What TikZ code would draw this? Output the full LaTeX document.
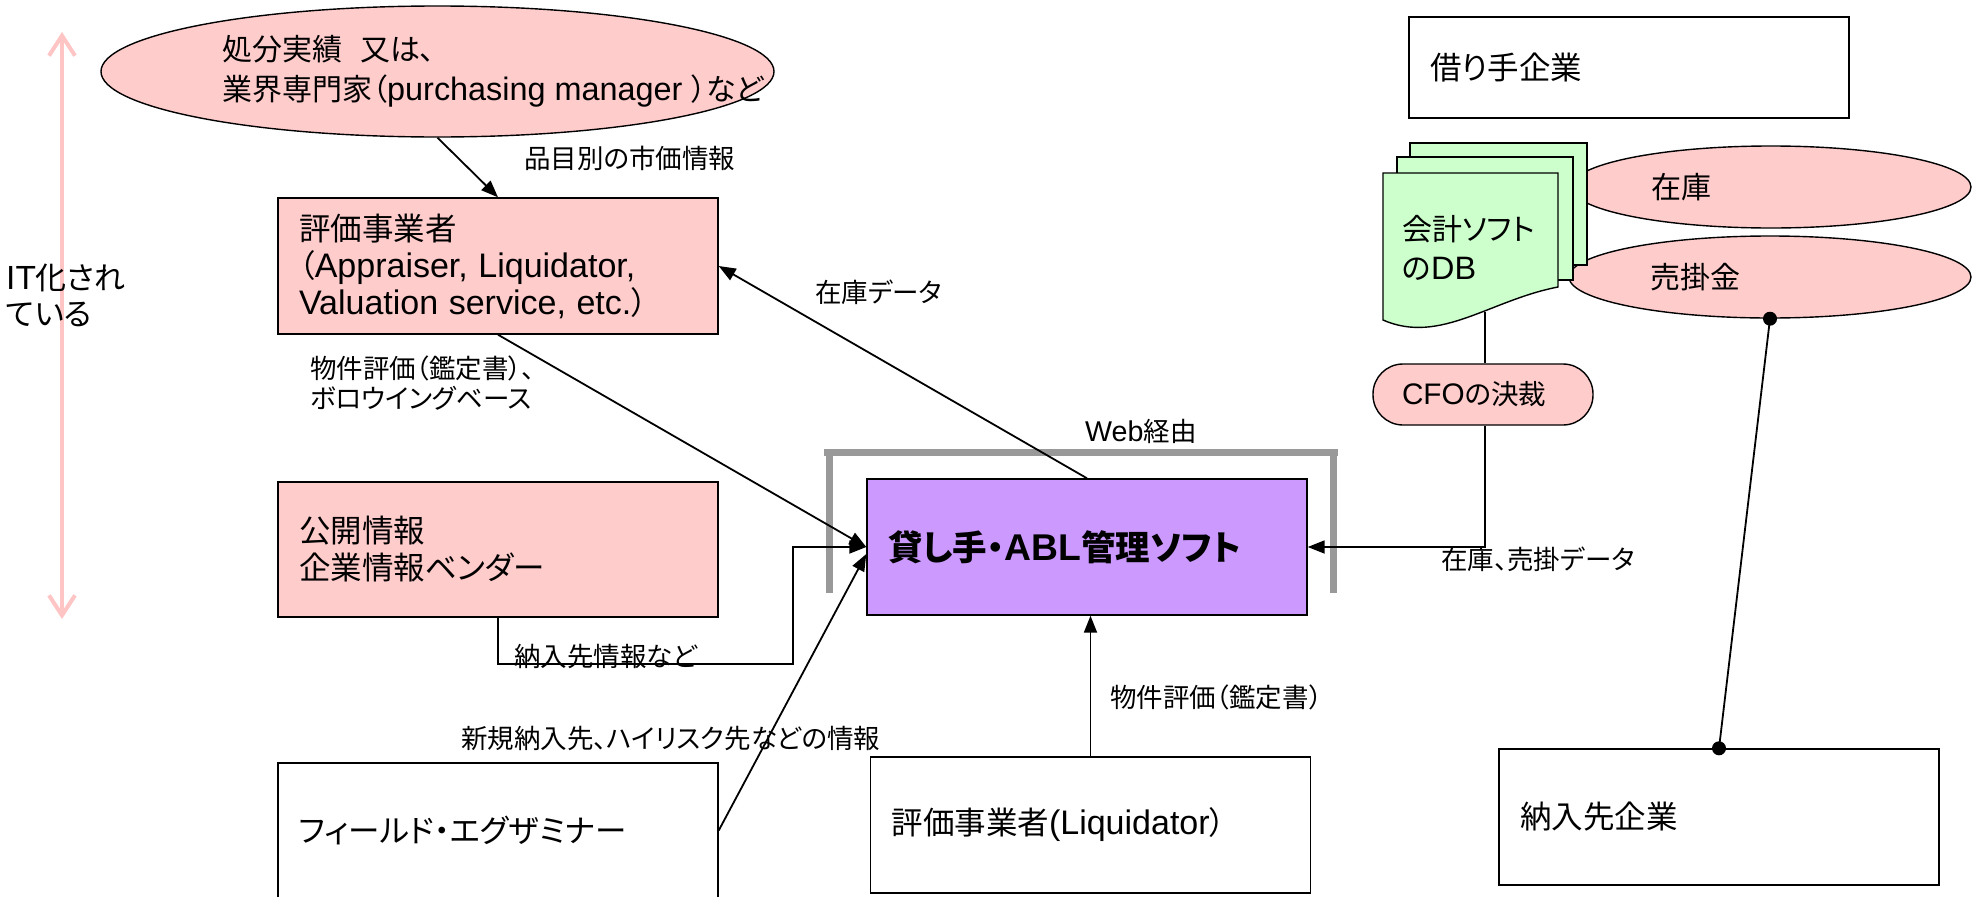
\documentclass[tikz,border=0pt]{standalone}
\usepackage{fontspec}
\setmainfont{Noto Sans CJK JP}[RawFeature=+palt]
\newfontfamily\latfont{Liberation Sans}[Scale=1.08]
\newcommand{\latn}[1]{{\latfont #1}}
\usetikzlibrary{arrows.meta,shapes.geometric}
\definecolor{pinkf}{HTML}{FFCCCC}
\definecolor{purplef}{HTML}{CC99FF}
\definecolor{greenf}{HTML}{CCFFCC}
\definecolor{grayb}{HTML}{999999}
\definecolor{pinkarrow}{HTML}{FFC4C4}
\begin{document}
\begin{tikzpicture}[x=1pt,y=-1pt,
  every node/.style={inner sep=0pt},
  bx/.style={draw=black, line width=1.4pt, inner xsep=21pt, inner ysep=0pt, text width=398pt, minimum height=136pt, align=left, font=\fontsize{31.5}{37}\selectfont},
  lbl/.style={anchor=west, align=left, font=\fontsize{26.5}{30}\selectfont},
  conn/.style={line width=1.8pt, -{Triangle[length=17pt,width=13pt]}},
  plain/.style={line width=1.8pt},
  webbar/.style={draw=grayb, line width=7pt},
  ell/.style={ellipse, draw=black, line width=1.4pt, fill=pinkf},
  docst/.style={draw=black, line width=1.4pt, fill=greenf},
]
\useasboundingbox (0,0) rectangle (1982,897);

% left pink double arrow
\coordinate (itTop) at (62,32);
\coordinate (itBot) at (62,619);
\draw[pinkarrow, line width=4pt, {Straight Barb[length=20pt,width=26pt]}-{Straight Barb[length=20pt,width=26pt]}] (itTop) -- (itBot);
\node[lbl, font=\fontsize{31}{36}\selectfont] (it) at (6,295) {\latn{IT}化され\\ている};

% web bracket
\draw[webbar] (824,452) -- (1338,452);
\draw[webbar] (829,452) -- (829,593);
\draw[webbar] (1333,452) -- (1333,593);
\node[lbl] (web) at (1085,431) {\latn{Web}経由};

% top ellipse
\node[ell, minimum width=673pt, minimum height=131pt] (disp) at (437.5,71.5) {};
\node[lbl, font=\fontsize{30}{40}\selectfont] (dispT) at (222,71) {処分実績\hspace{0.6em}又は、\\業界専門家（\latn{purchasing manager }）など};

% boxes
\node[bx, fill=pinkf] (apr) at (498,266) {評価事業者\\（\latn{Appraiser, Liquidator,}\\\latn{Valuation service, etc.}）};
\node[bx, fill=pinkf, minimum height=135pt] (pub) at (498,549.5) {公開情報\\企業情報ベンダー};
\node[bx, fill=white, minimum height=135pt] (fe) at (498,830.5) {フィールド・エグザミナー};
\node[bx, fill=purplef, font=\bfseries\fontsize{34.5}{40}\selectfont] (abl) at (1087,547) {貸し手・\latn{ABL}管理ソフト};
\node[bx, fill=white] (liq) at (1090.5,825) {評価事業者\latn{(Liquidator}）};
\node[bx, fill=white, minimum height=101pt] (borrow) at (1629,67.5) {借り手企業};
\node[bx, fill=white] (buyer) at (1719,817) {納入先企業};

% right ellipses
\node[ell, minimum width=400pt, minimum height=82pt, text width=240pt, align=left, font=\fontsize{30}{37}\selectfont] (zaiko) at (1771,187) {在庫};
\node[ell, minimum width=402pt, minimum height=82pt, text width=240pt, align=left, font=\fontsize{30}{37}\selectfont] (urikake) at (1770,277) {売掛金};

% documents
\draw[docst] (1410,143) rectangle (1587,265);
\draw[docst] (1397,157) rectangle (1573,280);
\draw[docst] (1383,173) -- (1558,173) -- (1558,287) .. controls (1490,300) and (1440,345) .. (1383,320) -- cycle;
\node[lbl, font=\fontsize{30}{39}\selectfont] (dbT) at (1402,248) {会計ソフト\\の\latn{DB}};
\coordinate (docb) at (1485,312);

% CFO
\node[draw=black, line width=1.4pt, fill=pinkf, rounded corners=30pt, minimum width=220pt, minimum height=61pt, inner xsep=29pt, text width=162pt, align=left, font=\fontsize{27.5}{30}\selectfont] (cfo) at (1483,394.5) {\latn{CFO}の決裁};

% labels
\node[lbl] (l1) at (524,158) {品目別の市価情報};
\node[lbl] (l2) at (815,292) {在庫データ};
\node[lbl] (l3) at (310,383) {物件評価（鑑定書）、\\ボロウイングベース};
\node[lbl] (l5) at (514,656) {納入先情報など};
\node[lbl] (l6) at (461,738) {新規納入先、ハイリスク先などの情報};
\node[lbl] (l7) at (1110,697) {物件評価（鑑定書）};
\node[lbl] (l8) at (1441,559) {在庫、売掛データ};

% connectors
\coordinate (pbend) at (793,664);
\draw[conn] (disp.south) -- (apr.north);
\draw[conn] (apr.south) -- (abl.west);
\draw[conn] (abl.north) -- (apr.east);
\draw[conn] (pub.south) |- (pbend) |- (abl.west);
\draw[conn] (fe.east) -- ([yshift=-7pt]abl.west);
\draw[conn] (liq.north) -- (liq.north |- abl.south);
\draw[plain] (docb) -- (docb |- cfo.north);
\draw[conn] (cfo.south -| docb) |- (abl.east);
\draw[plain] (urikake.south) -- (buyer.north);
\fill (urikake.south) circle[radius=7pt];
\fill (buyer.north) circle[radius=7pt];
\end{tikzpicture}
\end{document}
